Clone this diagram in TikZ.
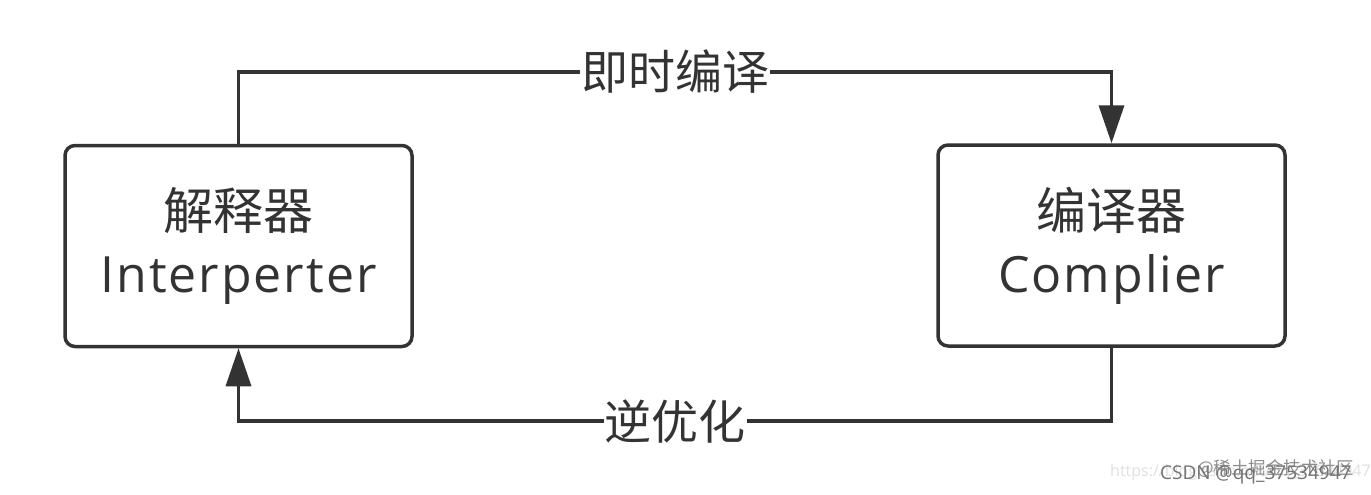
\documentclass[tikz,border=0pt]{standalone}
\usepackage{fontspec}
\setmainfont{Open Sans}[LetterSpace=4]
\newfontfamily\cjk{Noto Sans CJK SC}
\usetikzlibrary{arrows.meta}
\definecolor{ink}{HTML}{333333}
\tikzset{
  procbox/.style={draw=ink, line width=3.5pt, rounded corners=10pt, minimum width=347pt, minimum height=201pt, align=center, text=ink, font=\fontsize{50}{61}\selectfont, inner sep=0pt},
  conn/.style={draw=ink, line width=3.5pt},
  tip/.style={-{Triangle[length=38pt,width=25pt]}},
  edgelabel/.style={fill=white, inner sep=1pt, text=ink, font=\cjk\fontsize{47}{50}\selectfont},
  wmark/.style={inner sep=0pt, anchor=base west}
}
\begin{document}
\begin{tikzpicture}[x=1pt,y=-1pt]
\useasboundingbox[fill=white] (0,0) rectangle (1371,495);
\node[procbox] (interp) at (238.5,246) {\raisebox{-5pt}{\cjk 解释器}\\[4pt]\raisebox{-3pt}{Interperter}};
\node[procbox] (comp) at (1111.5,245.5) {\raisebox{-5pt}{\cjk 编译器}\\[4pt]\raisebox{-3pt}{Complier}};
\coordinate (t1) at (interp.north |- 0,72);
\coordinate (t2) at (comp.north |- 0,72);
\coordinate (b1) at (comp.south |- 0,421);
\coordinate (b2) at (interp.south |- 0,421);
\draw[conn, tip] (interp.north) -- (t1) -- node[edgelabel] (jit) {即时编译} (t2) -- (comp.north);
\draw[conn, tip] (comp.south) -- (b1) -- node[edgelabel] (deopt) {逆优化} (b2) -- (interp.south);
\node[wmark, text=black!12, font=\addfontfeatures{LetterSpace=0}\fontsize{16}{16}\selectfont] (url) at (1110,476) {https://blog.csdn.net/qq\_37534947};
\node[wmark, text=black!45, font=\cjk\fontsize{17.5}{18}\selectfont] (xt) at (1197,474) {@稀土掘金技术社区};
\node[wmark, text=black!55, font=\addfontfeatures{LetterSpace=0}\fontsize{19}{19}\selectfont] (csdn) at (1160,479) {CSDN @qq\_37534947};
\end{tikzpicture}
\end{document}
